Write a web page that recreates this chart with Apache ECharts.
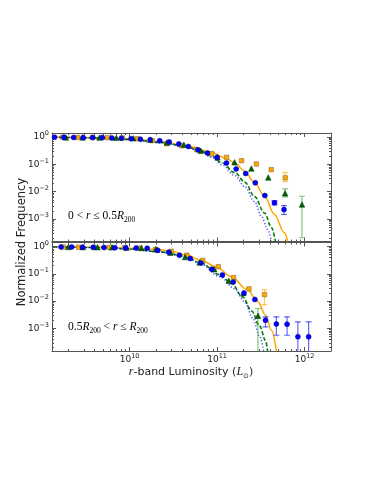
<!DOCTYPE html>
<html>
<head>
<meta charset="utf-8">
<script src="https://cdn.jsdelivr.net/npm/echarts@6/dist/echarts.min.js"></script>
<style>
  html, body { margin: 0; padding: 0; background: #fff; }
  #chart { width: 374px; height: 484px; }
</style>
</head>
<body>
<div id="chart"></div>
<script>
// ---- ticks ----
const xMajorTicks = [1e10, 1e11, 1e12]
const xMinorTicks = [2e9, 3e9, 4e9, 5e9, 6e9, 7e9, 8e9, 9e9,
  2e10, 3e10, 4e10, 5e10, 6e10, 7e10, 8e10, 9e10,
  2e11, 3e11, 4e11, 5e11, 6e11, 7e11, 8e11, 9e11]
const yMajorTicks = [1e-3, 1e-2, 1e-1, 1]
const yMinorTicks = [2e-4, 3e-4, 4e-4, 5e-4, 6e-4, 7e-4, 8e-4, 9e-4,
  2e-3, 3e-3, 4e-3, 5e-3, 6e-3, 7e-3, 8e-3, 9e-3,
  2e-2, 3e-2, 4e-2, 5e-2, 6e-2, 7e-2, 8e-2, 9e-2,
  0.2, 0.3, 0.4, 0.5, 0.6, 0.7, 0.8, 0.9]

// ---- top panel: 0 < r <= 0.5 R200 ----
const innerBlueL = [1.39e9, 1.78e9, 2.30e9, 2.95e9, 3.79e9, 4.88e9, 6.27e9, 8.07e9, 1.04e10, 1.33e10, 1.72e10, 2.21e10, 2.84e10, 3.65e10, 4.69e10, 6.04e10, 7.76e10, 1.0e11, 1.28e11, 1.65e11, 2.12e11, 2.73e11, 3.51e11, 4.52e11, 5.81e11]
const innerBlueF = [0.98, 0.98, 0.96, 0.96, 0.95, 0.95, 0.92, 0.90, 0.87, 0.83, 0.80, 0.73, 0.66, 0.56, 0.45, 0.34, 0.26, 0.18, 0.112, 0.068, 0.046, 0.021, 0.0072, 0.0039, 0.0022]
const innerBlueErr = [[4.52e11, 0.0033, 0.0047], [5.81e11, 0.00146, 0.0031]]

const innerOrangeL = [1.73e9, 2.55e9, 3.78e9, 5.58e9, 8.26e9, 1.22e10, 1.81e10, 2.67e10, 3.96e10, 5.86e10, 8.67e10, 1.28e11, 1.90e11, 2.81e11, 4.15e11, 6.0e11]
const innerOrangeF = [0.98, 0.96, 0.96, 0.94, 0.92, 0.86, 0.74, 0.57, 0.48, 0.34, 0.246, 0.18, 0.136, 0.103, 0.064, 0.032]
const innerOrangeErr = [[6.0e11, 0.0234, 0.050]]

const innerGreenL = [1.87e9, 2.91e9, 4.53e9, 7.06e9, 1.10e10, 1.72e10, 2.67e10, 4.17e10, 6.50e10, 1.01e11, 1.58e11, 2.46e11, 3.84e11, 5.98e11, 9.32e11]
const innerGreenF = [0.96, 0.96, 0.95, 0.93, 0.90, 0.79, 0.63, 0.52, 0.316, 0.18, 0.118, 0.070, 0.033, 0.0087, 0.0034]
const innerGreenErr = [[5.98e11, 0.00645, 0.0127], [9.32e11, 0.000206, 0.0068]]

const innerSolidL = [1.34e9, 4.69e9, 1.03e10, 2.24e10, 4.92e10, 8.28e10, 1.26e11, 1.59e11, 2.07e11, 2.68e11, 3.48e11, 4.52e11, 5.87e11, 6.4e11]
const innerSolidF = [0.99, 0.94, 0.85, 0.67, 0.45, 0.29, 0.168, 0.112, 0.0555, 0.021, 0.0068, 0.00146, 0.000313, 0.00015]
const innerDashL = [1.34e9, 4.69e9, 1.03e10, 2.24e10, 4.31e10, 6.38e10, 8.73e10, 1.13e11, 1.59e11, 2.07e11, 2.68e11, 3.48e11, 4.18e11, 4.64e11]
const innerDashF = [0.98, 0.92, 0.81, 0.635, 0.46, 0.316, 0.199, 0.115, 0.0498, 0.0224, 0.0066, 0.00166, 0.00049, 0.00015]
const innerDotL = [1.34e9, 4.69e9, 1.03e10, 2.24e10, 4.31e10, 6.38e10, 8.73e10, 1.13e11, 1.59e11, 2.07e11, 2.68e11, 3.22e11, 3.77e11, 4.18e11]
const innerDotF = [0.98, 0.92, 0.80, 0.62, 0.44, 0.30, 0.18, 0.0975, 0.0387, 0.0153, 0.00435, 0.00123, 0.000414, 0.00015]

// ---- bottom panel: 0.5 R200 < r <= R200 ----
const outerBlueL = [1.65e9, 2.18e9, 2.90e9, 3.85e9, 5.11e9, 6.78e9, 9.01e9, 1.19e10, 1.59e10, 2.10e10, 2.80e10, 3.71e10, 4.93e10, 6.53e10, 8.68e10, 1.15e11, 1.53e11, 2.03e11, 2.70e11, 3.57e11, 4.75e11, 6.30e11, 8.37e11, 1.11e12]
const outerBlueF = [0.96, 0.96, 0.94, 0.93, 0.92, 0.90, 0.89, 0.88, 0.86, 0.73, 0.62, 0.48, 0.36, 0.25, 0.148, 0.091, 0.050, 0.0197, 0.0116, 0.0020, 0.00147, 0.00144, 0.000498, 0.000498]
const outerBlueErr = [[3.57e11, 0.00115, 0.00268], [4.75e11, 0.000566, 0.00268], [6.30e11, 0.000566, 0.00268], [8.37e11, 0.0001, 0.00175], [1.11e12, 0.0001, 0.00175]]

const outerOrangeL = [1.74e9, 2.61e9, 3.91e9, 5.86e9, 8.78e9, 1.32e10, 1.97e10, 2.99e10, 4.51e10, 6.85e10, 1.03e11, 1.54e11, 2.31e11, 3.48e11]
const outerOrangeF = [0.96, 0.94, 0.92, 0.92, 0.90, 0.87, 0.78, 0.67, 0.48, 0.31, 0.183, 0.073, 0.0282, 0.0174]
const outerOrangeErr = [[3.48e11, 0.00743, 0.0266]]

const outerGreenL = [2.00e9, 2.93e9, 4.31e9, 6.32e9, 9.27e9, 1.36e10, 2.00e10, 2.93e10, 4.31e10, 6.31e10, 9.27e10, 1.36e11, 2.00e11, 2.93e11]
const outerGreenF = [0.96, 0.95, 0.94, 0.93, 0.91, 0.88, 0.80, 0.59, 0.41, 0.26, 0.148, 0.0556, 0.020, 0.00292]
const outerGreenErr = [[2.93e11, 0.0001, 0.00538]]

const outerSolidL = [1.34e9, 4.69e9, 1.03e10, 2.24e10, 3.05e10, 4.51e10, 6.67e10, 9.87e10, 1.46e11, 2.18e11, 2.90e11, 3.57e11, 4.18e11, 4.76e11]
const outerSolidF = [0.975, 0.93, 0.86, 0.76, 0.65, 0.485, 0.30, 0.175, 0.078, 0.027, 0.0102, 0.0031, 0.000865, 0.00015]
const outerDashL = [1.34e9, 4.69e9, 1.03e10, 2.24e10, 4.31e10, 6.38e10, 1.08e11, 1.47e11, 1.96e11, 2.48e11, 3.06e11, 3.57e11, 3.77e11]
const outerDashF = [0.97, 0.91, 0.81, 0.63, 0.446, 0.257, 0.0927, 0.0431, 0.0143, 0.00435, 0.00122, 0.00037, 0.00015]
const outerDotL = [1.34e9, 4.69e9, 1.03e10, 2.24e10, 4.31e10, 6.38e10, 1.08e11, 1.59e11, 2.07e11, 2.55e11, 3.06e11, 3.40e11]
const outerDotF = [0.97, 0.91, 0.80, 0.62, 0.428, 0.236, 0.0782, 0.0282, 0.00934, 0.0024, 0.00052, 0.00015]

const X_MIN = 1.3e9, X_MAX = 2e12
const Y_MIN = 1.5e-4, Y_MAX = 1.4
const FRAME = '#555'
const SANS = 'DejaVu Sans'
const SERIF = 'Liberation Serif'

function zip(xs, ys) {
  return xs.map((x, i) => [x, ys[i]])
}

function powLabel(value) {
  let e = Math.round(Math.log10(value))
  return '{b|10}{s|' + String(e).replace('-', '\u2212') + '}'
}

const labelRich = {
  b: { fontSize: 9, fontFamily: SANS, color: '#222', lineHeight: 14, verticalAlign: 'middle' },
  s: { fontSize: 6.5, fontFamily: SANS, color: '#222', lineHeight: 7, verticalAlign: 'top' },
}

function makeX(gridIndex, showLabels) {
  let base = { type: 'log', logBase: 10, gridIndex: gridIndex, min: X_MIN, max: X_MAX, splitLine: { show: false } }
  let major = { show: true, inside: true, length: 4, customValues: xMajorTicks, lineStyle: { color: FRAME, width: 1 } }
  let minor = { show: true, inside: true, length: 2, customValues: xMinorTicks, lineStyle: { color: FRAME, width: 1 } }
  let line = { show: true, onZero: false, lineStyle: { color: FRAME, width: 1 } }
  return [
    Object.assign({}, base, {
      position: 'bottom', axisLine: line, axisTick: major,
      axisLabel: showLabels
        ? { show: true, customValues: xMajorTicks, margin: 2, formatter: powLabel, rich: labelRich }
        : { show: false },
    }),
    Object.assign({}, base, { position: 'bottom', axisLine: { show: false }, axisTick: minor, axisLabel: { show: false } }),
    Object.assign({}, base, { position: 'top', axisLine: line, axisTick: major, axisLabel: { show: false } }),
    Object.assign({}, base, { position: 'top', axisLine: { show: false }, axisTick: minor, axisLabel: { show: false } }),
  ]
}

function makeY(gridIndex) {
  let base = { type: 'log', logBase: 10, gridIndex: gridIndex, min: Y_MIN, max: Y_MAX, splitLine: { show: false } }
  let major = { show: true, inside: true, length: 4, customValues: yMajorTicks, lineStyle: { color: FRAME, width: 1 } }
  let minor = { show: true, inside: true, length: 2, customValues: yMinorTicks, lineStyle: { color: FRAME, width: 1 } }
  let line = { show: true, onZero: false, lineStyle: { color: FRAME, width: 1 } }
  return [
    Object.assign({}, base, {
      position: 'left', axisLine: line, axisTick: major,
      axisLabel: { show: true, customValues: yMajorTicks, margin: 3, formatter: powLabel, rich: labelRich },
    }),
    Object.assign({}, base, { position: 'left', axisLine: { show: false }, axisTick: minor, axisLabel: { show: false } }),
    Object.assign({}, base, { position: 'right', axisLine: line, axisTick: major, axisLabel: { show: false } }),
    Object.assign({}, base, { position: 'right', axisLine: { show: false }, axisTick: minor, axisLabel: { show: false } }),
  ]
}

function lineSeries(xs, ys, color, type, width, ai, opacity) {
  return {
    type: 'line', xAxisIndex: ai, yAxisIndex: ai, data: zip(xs, ys),
    showSymbol: false, symbol: 'none', smooth: 0.35, smoothMonotone: 'x', silent: true, z: 2, clip: true,
    lineStyle: { color: color, type: type, width: width, opacity: opacity || 1 },
  }
}

function pointSeries(xs, ys, symbol, size, color, border, ai, z) {
  return {
    type: 'scatter', xAxisIndex: ai, yAxisIndex: ai, data: zip(xs, ys), symbol: symbol, symbolSize: size,
    silent: true, z: z, clip: true,
    itemStyle: { color: color, borderColor: border, borderWidth: 0.5, opacity: 1 },
  }
}

function errSeries(errs, color, ai) {
  return {
    type: 'custom', xAxisIndex: ai, yAxisIndex: ai, data: errs, clip: true, silent: true, z: 3,
    encode: { x: 0, y: [1, 2] },
    renderItem: function (params, api) {
      let p1 = api.coord([api.value(0), api.value(1)])
      let p2 = api.coord([api.value(0), api.value(2)])
      let w = 3
      let style = { stroke: color, lineWidth: 1.2, opacity: 0.6 }
      return {
        type: 'group', children: [
          { type: 'line', shape: { x1: p1[0], y1: p1[1], x2: p2[0], y2: p2[1] }, style: style },
          { type: 'line', shape: { x1: p1[0] - w, y1: p1[1], x2: p1[0] + w, y2: p1[1] }, style: style },
          { type: 'line', shape: { x1: p2[0] - w, y1: p2[1], x2: p2[0] + w, y2: p2[1] }, style: style },
        ]
      }
    }
  }
}

const BLUE = '#0000ff', ORANGE = '#ffa500', GREEN = '#006400'

function panelSeries(d, ai) {
  return [
    lineSeries(d.solidL, d.solidF, ORANGE, 'solid', 1.5, ai),
    lineSeries(d.dashL, d.dashF, '#008000', [4, 2], 1.6, ai),
    lineSeries(d.dotL, d.dotF, BLUE, [1.2, 2], 1.5, ai, 0.7),
    errSeries(d.orangeErr, ORANGE, ai),
    errSeries(d.greenErr, '#2ca02c', ai),
    errSeries(d.blueErr, BLUE, ai),
    pointSeries(d.orangeL, d.orangeF, 'rect', 4.5, ORANGE, '#7a6438', ai, 4),
    pointSeries(d.greenL, d.greenF, 'triangle', 5.5, GREEN, '#003300', ai, 5),
    pointSeries(d.blueL, d.blueF, 'circle', 5, BLUE, '#000088', ai, 6),
  ]
}

const inner = {
  solidL: innerSolidL, solidF: innerSolidF, dashL: innerDashL, dashF: innerDashF, dotL: innerDotL, dotF: innerDotF,
  blueL: innerBlueL, blueF: innerBlueF, blueErr: innerBlueErr,
  orangeL: innerOrangeL, orangeF: innerOrangeF, orangeErr: innerOrangeErr,
  greenL: innerGreenL, greenF: innerGreenF, greenErr: innerGreenErr,
}
const outer = {
  solidL: outerSolidL, solidF: outerSolidF, dashL: outerDashL, dashF: outerDashF, dotL: outerDotL, dotF: outerDotF,
  blueL: outerBlueL, blueF: outerBlueF, blueErr: outerBlueErr,
  orangeL: outerOrangeL, orangeF: outerOrangeF, orangeErr: outerOrangeErr,
  greenL: outerGreenL, greenF: outerGreenF, greenErr: outerGreenErr,
}

const mathRich = {
  n: { fontFamily: SERIF, fontSize: 11.5, color: '#333', lineHeight: 16, verticalAlign: 'middle' },
  i: { fontFamily: SERIF, fontStyle: 'italic', fontSize: 11.5, color: '#333', lineHeight: 16, verticalAlign: 'middle' },
  s: { fontFamily: SERIF, fontSize: 7.5, color: '#333', lineHeight: 8, verticalAlign: 'bottom' },
}

let option = {
  animation: false,
  backgroundColor: '#fff',
  grid: [
    { left: 52, top: 133, width: 279, height: 108.5 },
    { left: 52, top: 242.5, width: 279, height: 108.5 },
  ],
  xAxis: makeX(0, false).concat(makeX(1, true)),
  yAxis: makeY(0).concat(makeY(1)),
  series: panelSeries(inner, 0).concat(panelSeries(outer, 4)),
  graphic: [
    {
      type: 'text', x: 22, y: 242, rotation: Math.PI / 2, silent: true,
      style: { text: 'Normalized Frequency', fontFamily: SANS, fontSize: 11.5, fill: '#222', align: 'center', verticalAlign: 'middle' },
    },
    {
      type: 'text', x: 191, y: 372, silent: true,
      style: {
        text: '{i|r}{n|-band Luminosity (}{i|L}{s|\u2299}{n|)}', align: 'center', verticalAlign: 'middle',
        rich: {
          n: { fontFamily: SANS, fontSize: 11, fill: '#222', lineHeight: 16, verticalAlign: 'middle' },
          i: { fontFamily: SERIF, fontStyle: 'italic', fontSize: 12, fill: '#222', lineHeight: 16, verticalAlign: 'middle' },
          s: { fontFamily: SANS, fontSize: 7, fill: '#222', lineHeight: 8, verticalAlign: 'bottom' },
        },
      },
    },
    {
      type: 'text', x: 68, y: 216, silent: true,
      style: { text: '{n|0 < }{i|r}{n| \u2264 0.5}{i|R}{s|200}', verticalAlign: 'middle', rich: mathRich },
    },
    {
      type: 'text', x: 68, y: 327, silent: true,
      style: { text: '{n|0.5}{i|R}{s|200}{n| < }{i|r}{n| \u2264 }{i|R}{s|200}', verticalAlign: 'middle', rich: mathRich },
    },
  ],
}

let chart = echarts.init(document.getElementById('chart'), null, { renderer: 'canvas' })
chart.setOption(option)
</script>
</body>
</html>
